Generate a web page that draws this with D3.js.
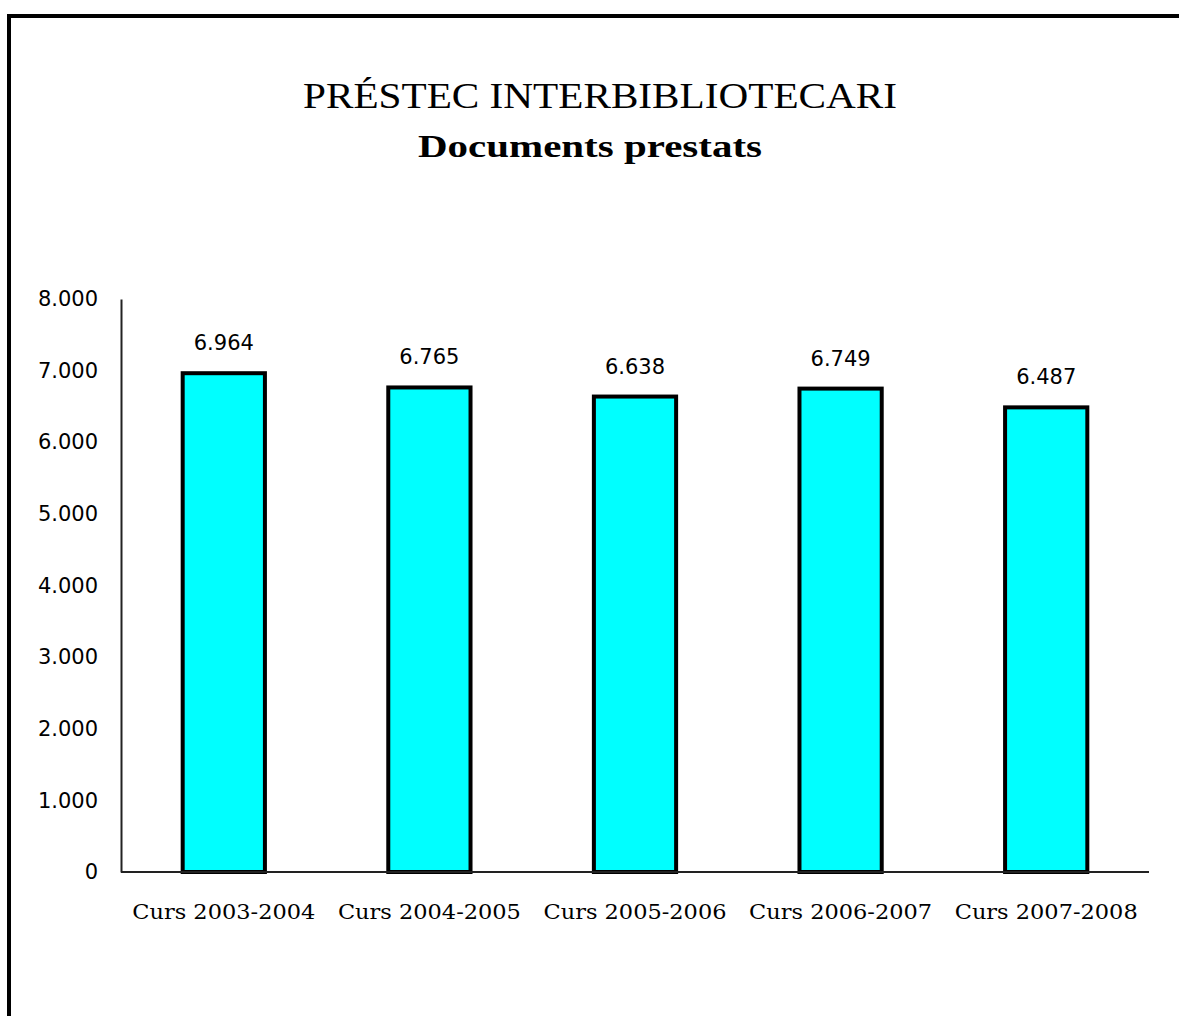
<!DOCTYPE html>
<html>
<head>
<meta charset="utf-8">
<script src="https://cdn.jsdelivr.net/npm/d3@7"></script>
<style>
  body { margin: 0; background: #fff; }
  svg { display: block; }
</style>
</head>
<body>
<div id="chart"></div>
<script>
var categories = ["Curs 2003-2004", "Curs 2004-2005", "Curs 2005-2006", "Curs 2006-2007", "Curs 2007-2008"];
var values = [6964, 6765, 6638, 6749, 6487];
var yTicks = [0, 1000, 2000, 3000, 4000, 5000, 6000, 7000, 8000];

var svgWidth = 1179;
var svgHeight = 1016;

var margin = { top: 299, right: 30, bottom: 144, left: 121 };
var width = svgWidth - margin.left - margin.right;
var height = svgHeight - margin.top - margin.bottom;

// catalan style numbers: 6.964
var fmt = d3.formatLocale({ decimal: ",", thousands: ".", grouping: [3], currency: ["", "€"] }).format(",d");

var svg = d3.select("#chart")
  .append("svg")
  .attr("width", svgWidth)
  .attr("height", svgHeight);

// chart frame (runs off the right and bottom of the picture)
svg.append("rect")
  .attr("x", 9)
  .attr("y", 16)
  .attr("width", 1300)
  .attr("height", 1200)
  .attr("fill", "none")
  .attr("stroke", "#000")
  .attr("stroke-width", 4);

svg.append("text")
  .attr("x", 600)
  .attr("y", 108)
  .attr("text-anchor", "middle")
  .attr("font-family", "Liberation Serif, serif")
  .attr("font-size", 36)
  .attr("textLength", 594)
  .attr("lengthAdjust", "spacingAndGlyphs")
  .text("PRÉSTEC INTERBIBLIOTECARI");

svg.append("text")
  .attr("x", 590)
  .attr("y", 157)
  .attr("text-anchor", "middle")
  .attr("font-family", "Liberation Serif, serif")
  .attr("font-weight", "bold")
  .attr("font-size", 31)
  .attr("textLength", 344)
  .attr("lengthAdjust", "spacingAndGlyphs")
  .text("Documents prestats");

var chartGroup = svg.append("g")
  .attr("transform", `translate(${margin.left}, ${margin.top})`);

var xScale = d3.scaleBand()
  .domain(categories)
  .range([0, width])
  .padding(0);

var yScale = d3.scaleLinear()
  .domain([0, 8000])
  .range([height, 0]);

var barW = xScale.bandwidth() * 0.4;

// y axis, no tick marks
var leftAxis = d3.axisLeft(yScale)
  .tickValues(yTicks)
  .tickSize(0)
  .tickPadding(23)
  .tickFormat(fmt);

var yAxis = chartGroup.append("g").call(leftAxis);
yAxis.select(".domain").attr("stroke", "#222").attr("stroke-width", 2);
yAxis.selectAll("text")
  .attr("font-family", "DejaVu Sans, sans-serif")
  .attr("font-size", 21)
  .attr("fill", "#000");

var bottomAxis = d3.axisBottom(xScale)
  .tickSize(0)
  .tickPadding(33);

var xAxis = chartGroup.append("g")
  .attr("transform", `translate(0, ${height})`)
  .call(bottomAxis);
xAxis.select(".domain").remove();
xAxis.selectAll("text")
  .attr("font-family", "DejaVu Serif, serif")
  .attr("font-size", 20)
  .attr("textLength", 183)
  .attr("lengthAdjust", "spacingAndGlyphs")
  .attr("fill", "#000");

var bars = chartGroup.selectAll(".bar")
  .data(values)
  .enter()
  .append("rect")
  .attr("class", "bar")
  .attr("x", (d, i) => xScale(categories[i]) + (xScale.bandwidth() - barW) / 2)
  .attr("y", d => yScale(d))
  .attr("width", barW)
  .attr("height", d => height - yScale(d))
  .attr("fill", "#00ffff")
  .attr("stroke", "#000")
  .attr("stroke-width", 4);

// x axis line drawn on top of bar bottoms
chartGroup.append("line")
  .attr("x1", 0)
  .attr("x2", width)
  .attr("y1", height)
  .attr("y2", height)
  .attr("stroke", "#222")
  .attr("stroke-width", 2);

chartGroup.selectAll(".valLabel")
  .data(values)
  .enter()
  .append("text")
  .attr("class", "valLabel")
  .attr("x", (d, i) => xScale(categories[i]) + xScale.bandwidth() / 2)
  .attr("y", d => yScale(d) - 23)
  .attr("text-anchor", "middle")
  .attr("font-family", "DejaVu Sans, sans-serif")
  .attr("font-size", 21)
  .text(d => fmt(d));
</script>
</body>
</html>
